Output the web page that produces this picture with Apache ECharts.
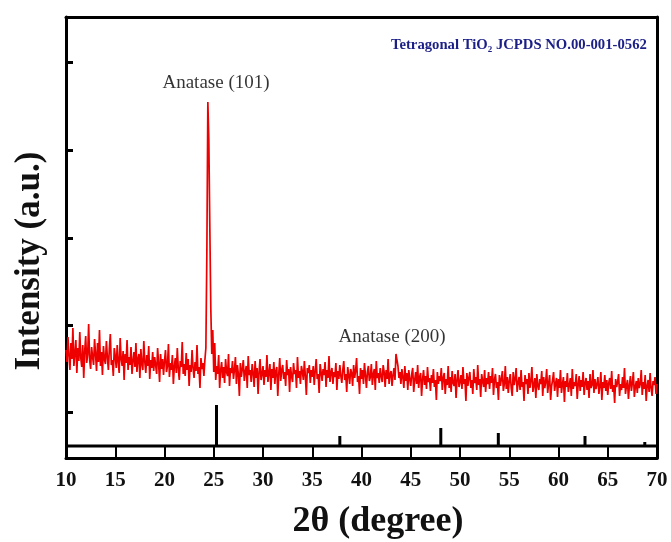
<!DOCTYPE html>
<html>
<head>
<meta charset="utf-8">
<script src="https://cdn.jsdelivr.net/npm/echarts@6/dist/echarts.min.js"></script>
<style>html,body{margin:0;padding:0;background:#fff;}#c{width:671px;height:542px;}</style>
</head>
<body>
<div id="c"></div>
<script>
// 2θ sampling: start and step (degrees)
const thetaStart = 10;
const thetaStep = 0.1;
// Measured XRD intensity (a.u.), one value per 0.1° from 10.0° to 70.0°
const intensity = [
  108,96,121,102,88,115,99,130,92,104,
  118,85,110,97,126,100,91,113,80,107,
  122,95,103,134,98,89,111,101,93,119,
  104,87,115,96,128,92,106,83,112,99,
  94,117,101,88,109,124,93,98,82,110,
  102,90,113,96,85,120,99,92,107,78,
  104,95,118,88,101,93,111,84,97,106,
  91,115,86,99,104,80,109,94,88,117,
  96,85,103,92,112,79,98,90,106,87,
  101,93,84,110,95,76,104,89,99,83,
  97,108,86,92,114,81,95,88,103,74,
  92,100,85,110,89,78,97,91,116,84,
  94,82,105,88,99,72,93,86,108,90,
  80,96,87,113,84,91,70,100,89,95,
  82,98,110,205,356,318,232,150,104,128,
  86,115,78,92,84,103,70,88,96,80,
  91,75,99,86,82,104,72,90,85,97,
  79,88,101,74,93,84,62,95,81,89,
  98,77,86,92,70,102,83,88,76,94,
  85,71,97,80,90,64,86,99,78,84,
  92,73,88,81,103,76,85,94,68,89,
  80,96,74,87,91,62,84,100,77,88,
  93,79,86,72,98,83,89,66,91,82,
  76,95,84,88,70,101,80,87,74,92,
  86,78,97,82,63,90,85,93,75,88,
  81,92,73,87,99,79,84,65,94,86,
  77,89,83,96,71,88,80,102,76,85,
  90,74,86,81,95,68,87,79,93,82,
  75,88,97,78,84,66,91,83,74,89,
  85,72,93,80,87,100,76,82,64,90,
  79,88,74,95,83,70,86,92,77,81,
  94,73,84,89,68,97,80,85,75,90,
  82,76,93,86,71,88,79,99,74,84,
  87,72,83,90,78,104,98,92,80,86,
  74,89,81,70,92,77,85,68,88,79,
  72,84,90,66,78,86,74,93,70,81,
  85,62,79,88,73,82,69,91,76,80,
  67,83,75,89,71,78,58,86,74,82,
  77,90,68,80,85,64,79,73,92,70,
  81,66,87,75,72,84,60,78,88,71,
  76,83,69,91,74,79,57,85,72,80,
  86,70,78,64,89,75,81,68,93,73,
  79,61,84,77,71,88,66,80,74,86,
  69,82,75,90,63,78,84,70,76,58,
  83,72,79,87,67,74,92,69,81,65,
  77,84,70,62,86,73,79,90,66,75,
  81,68,88,71,76,57,83,74,79,64,
  85,70,77,91,66,73,80,60,84,72,
  68,79,74,87,62,81,70,76,89,65,
  75,83,58,72,78,86,67,74,80,61,
  79,70,88,65,74,81,56,77,71,85,
  66,73,80,62,89,69,76,72,84,59,
  74,82,67,78,71,86,63,75,80,68,
  77,60,84,70,73,88,65,79,69,74,
  81,64,72,86,58,76,70,83,67,78,
  63,75,80,69,87,66,73,55,79,71,
  76,84,62,74,68,81,70,90,64,72,
  78,59,73,82,67,75,86,61,71,77,
  65,80,70,74,88,63,76,69,83,57,
  72,78,66,85,70,62,77,73,81,64,
  74
];
// JCPDS reference lines (anatase TiO2)
const refAngles = [25.28, 37.80, 48.05, 53.89, 62.69, 68.76];
const refHeights = [53, 22, 30, 25, 22, 16];
const refBase = 12;
// y-axis tick positions (unlabelled)
const yTicks = [46, 133, 220, 308, 396];
const peakLabels = [
  {name: 'Anatase (101)', x: 25.23, y: 375},
  {name: 'Anatase (200)', x: 43.1, y: 121}
];
const titleMain = 'Tetragonal TiO';
const titleSub = '2';
const titleRest = ' JCPDS NO.00-001-0562';
const xName = '2θ (degree)';
const yName = 'Intensity (a.u.)';

const serif = '"Times New Roman", "Liberation Serif", serif';
const xrd = intensity.map((v, i) => [+(thetaStart + i * thetaStep).toFixed(2), v]);
const refData = refAngles.map((a, i) => [a, refHeights[i]]);

const chart = echarts.init(document.getElementById('c'), null, {renderer: 'canvas'});
chart.setOption({
  animation: false,
  backgroundColor: '#fff',
  grid: {left: 66, right: 14, top: 17, bottom: 84, containLabel: false},
  title: {
    text: '{a|' + titleMain + '}{s|' + titleSub + '}{a|' + titleRest + '}',
    left: 386, top: 32,
    textStyle: {
      rich: {
        a: {fontFamily: serif, fontWeight: 'bold', fontSize: 14.7, color: '#1b1f86'},
        s: {fontFamily: serif, fontWeight: 'bold', fontSize: 9, color: '#1b1f86', verticalAlign: 'bottom', padding: [8, 0, 0, 0]}
      }
    }
  },
  graphic: [{
    type: 'text', x: 378, y: 522,
    style: {text: xName, fontFamily: serif, fontWeight: 'bold', fontSize: 36, fill: '#111', align: 'center', verticalAlign: 'middle'}
  }, {
    type: 'text', x: 30, y: 261, rotation: Math.PI / 2,
    style: {text: yName, fontFamily: serif, fontWeight: 'bold', fontSize: 35, fill: '#111', align: 'center', verticalAlign: 'middle'}
  }],
  xAxis: [{
    type: 'value', min: 10, max: 70, interval: 5,
    axisLine: {show: true, lineStyle: {color: '#000', width: 3}},
    axisTick: {show: true, inside: true, length: 12, lineStyle: {color: '#000', width: 2}},
    axisLabel: {fontFamily: serif, fontWeight: 'bold', fontSize: 21, color: '#111', margin: 12},
    splitLine: {show: false}
  }, {
    type: 'value', min: 10, max: 70, position: 'top',
    axisLine: {show: true, onZero: false, lineStyle: {color: '#000', width: 3}},
    axisTick: {show: false}, axisLabel: {show: false}, splitLine: {show: false}
  }],
  yAxis: [{
    type: 'value', min: 0, max: 441,
    axisLine: {show: true, lineStyle: {color: '#000', width: 3}},
    axisTick: {show: true, inside: true, length: 7, customValues: yTicks, lineStyle: {color: '#000', width: 3}},
    axisLabel: {show: false},
    splitLine: {show: false}
  }, {
    type: 'value', min: 0, max: 441, position: 'right',
    axisLine: {show: true, onZero: false, lineStyle: {color: '#000', width: 3}},
    axisTick: {show: false}, axisLabel: {show: false}, splitLine: {show: false}
  }],
  series: [{
    type: 'line', data: xrd, showSymbol: false, symbol: 'none',
    lineStyle: {color: '#ee0000', width: 1.7}, z: 3
  }, {
    type: 'scatter', z: 5, symbolSize: 1, itemStyle: {color: 'rgba(0,0,0,0)'},
    data: peakLabels.map(p => ({name: p.name, value: [p.x, p.y]})),
    label: {show: true, position: 'inside', formatter: p => p.name, fontFamily: serif, fontSize: 19, color: '#000', textBorderWidth: 0}
  }, {
    type: 'custom', z: 4,
    data: refData,
    renderItem: (params, api) => {
      const top = api.coord([api.value(0), api.value(1)]);
      const bot = api.coord([api.value(0), refBase]);
      return {type: 'line', shape: {x1: top[0], y1: top[1], x2: bot[0], y2: bot[1]}, style: {stroke: '#000', lineWidth: 3}};
    }
  }, {
    type: 'line', data: [[10, refBase], [70, refBase]], showSymbol: false, symbol: 'none',
    lineStyle: {color: '#000', width: 3}, z: 4, silent: true
  }]
});
</script>
</body>
</html>
